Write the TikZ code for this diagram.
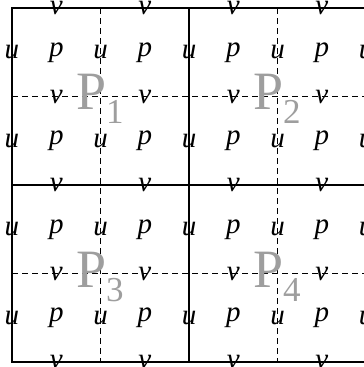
\documentclass[tikz,border=0pt]{standalone}
\usepackage{fontspec}
\setmainfont{Liberation Serif}
\begin{document}
\begin{tikzpicture}[x=1pt,y=-1pt,
  var/.style={font=\fontsize{29}{29}\selectfont\itshape, inner sep=0pt, anchor=center},
  blocklab/.style={font=\fontsize{54}{54}\selectfont, text=black!38, inner sep=0pt, anchor=base west},
  solidline/.style={line width=2pt},
  dashline/.style={line width=0.8pt, dash pattern=on 6pt off 4pt}]
\useasboundingbox (0,0) rectangle (364,367);
\clip (0,0) rectangle (364,367);
% dashed sub-grid
\foreach \x in {100.5,277.5} \draw[dashline] (\x,8) -- (\x,362);
\foreach \y in {96.5,273.5} \draw[dashline] (12,\y) -- (366,\y);
% solid grid
\draw[solidline] (12,8) rectangle (366,362);
\draw[solidline] (189,8) -- (189,362);
\draw[solidline] (12,185) -- (366,185);
% u and p labels
\foreach \r/\y in {1/52.5,2/141,3/229.5,4/318} {
  \foreach \c/\x in {1/12,2/100.5,3/189,4/277.5,5/366}
    \node[var] (u-\r-\c) at (\x,\y) {u};
  \foreach \c/\x in {1/56.25,2/144.75,3/233.25,4/321.75}
    \node[var] (p-\r-\c) at (\x,\y) {p};
}
% v labels
\foreach \r/\y in {1/8,2/96.5,3/185,4/273.5,5/362}
  \foreach \c/\x in {1/56.25,2/144.75,3/233.25,4/321.75}
    \node[var] (v-\r-\c) at (\x,\y) {v};
% block labels
\node[blocklab] (P1) at (76,109) {P\raisebox{-14pt}{\fontsize{35}{35}\selectfont 1}};
\node[blocklab] (P2) at (253,109) {P\raisebox{-14pt}{\fontsize{35}{35}\selectfont 2}};
\node[blocklab] (P3) at (76,287) {P\raisebox{-14pt}{\fontsize{35}{35}\selectfont 3}};
\node[blocklab] (P4) at (253,287) {P\raisebox{-14pt}{\fontsize{35}{35}\selectfont 4}};
\end{tikzpicture}
\end{document}
